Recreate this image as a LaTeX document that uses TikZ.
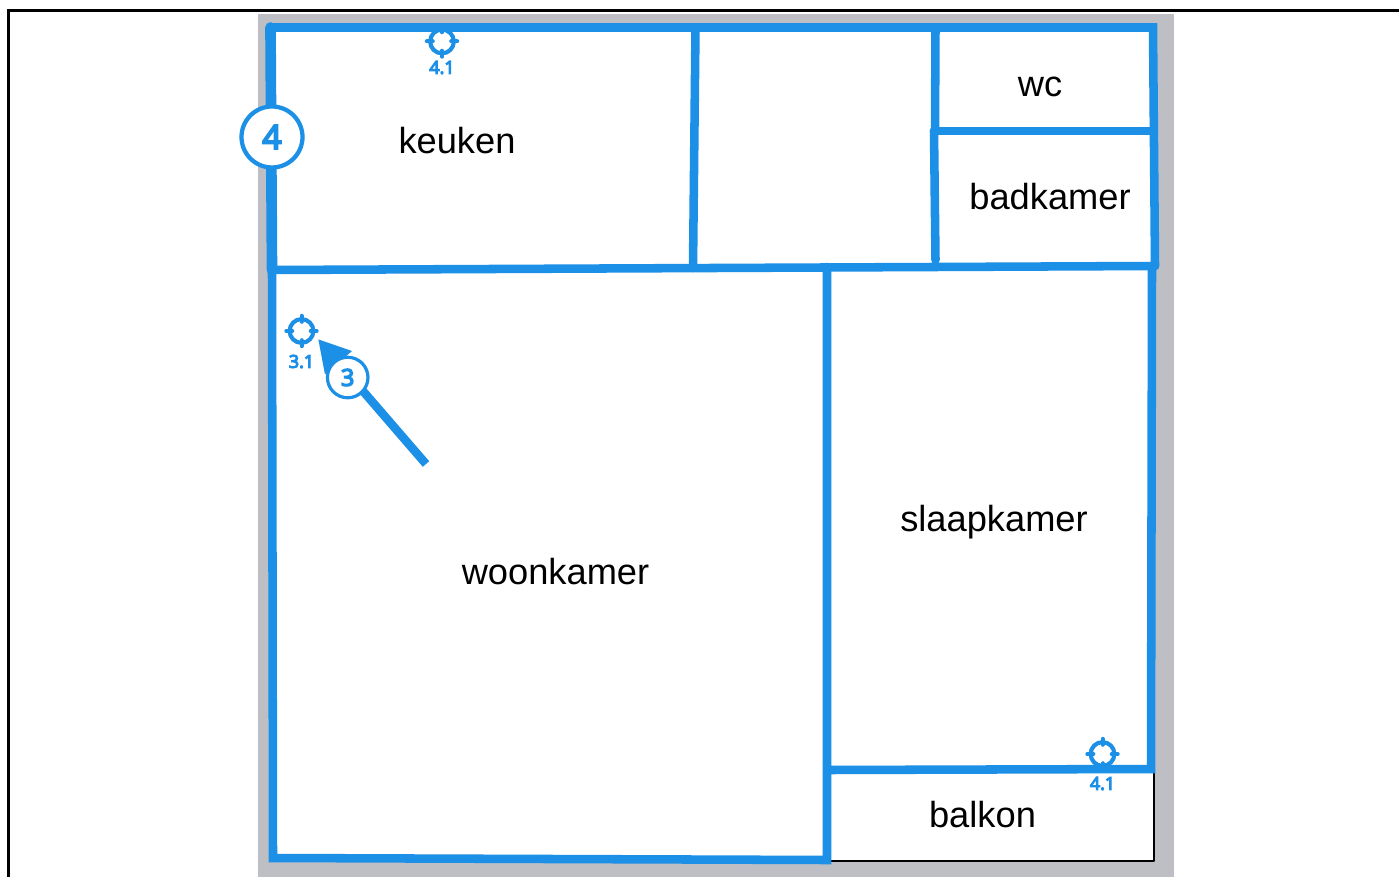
\documentclass[tikz,border=0pt]{standalone}
\usepackage{fontspec}
\setmainfont{Liberation Sans}
\newfontfamily\markfont[FakeBold=6]{Open Sans}
\usetikzlibrary{arrows.meta}
\definecolor{planblue}{HTML}{1C8FE6}
\definecolor{plangrey}{HTML}{BEBFC4}
\tikzset{
  wall/.style={draw=planblue,line width=6.4pt,line cap=round},
  room/.style={font=\fontsize{27.2}{27.2}\selectfont,anchor=base,inner sep=0pt},
  marker/.style={circle,draw=planblue,line width=3.1pt,minimum size=17.8pt,inner sep=0pt,outer sep=0pt},
  tick/.style={draw=planblue,line width=3pt,line cap=round},
  marklabel/.style={text=planblue,font=\fontsize{13.4}{13.4}\markfont\selectfont,inner sep=0pt},
  stepmark/.style={circle,draw=planblue,fill=white,text=planblue,inner sep=0pt,outer sep=0pt}
}
\begin{document}
\begin{tikzpicture}[x=0.75pt,y=-0.75pt]
  \useasboundingbox (0,0) rectangle (1399,877);
  \fill[white] (0,0) rectangle (1399,877);
  \fill[plangrey] (258,14) rectangle (1174,877);
  \draw[line width=2.25pt] (8.5,877) -- (8.5,10.7) -- (1399,10.7);
  \fill[white] (271,28) rectangle (1153,860);

  % balcony edge
  \coordinate (bal1) at (830,860.5);
  \coordinate (bal2) at (1153.6,860.5);
  \coordinate (bal3) at (1153.6,770);
  \draw[line width=1.5pt,line join=round] (bal1) -- (bal2) -- (bal3);

  % corners of the walls
  \coordinate (tl) at (270.5,27.5);
  \coordinate (tr) at (1153,27.5);
  \coordinate (kl) at (272,270);
  \coordinate (kr) at (1155,266);
  \coordinate (bl) at (273,858);
  \coordinate (bm) at (827,860);
  \coordinate (hm) at (827,267);
  \coordinate (bt) at (828,770);
  \coordinate (br) at (1151,769);
  \coordinate (mr) at (1152,266);
  \coordinate (ka) at (695.5,28);
  \coordinate (kb) at (693,268);
  \coordinate (wa) at (935.5,28);
  \coordinate (wb) at (935,130);
  \coordinate (wc) at (934,131);
  \coordinate (wd) at (1153,131);
  \coordinate (we) at (935.5,260);

  \draw[wall,line width=8pt] (tl) -- (kl);
  \draw[wall] (kl) -- (bl) -- (bm) -- (hm);
  \draw[wall] (tl) -- (tr) -- (kr);
  \draw[wall] (kl) -- (kr);
  \draw[wall] (mr) -- (br) -- (bt);
  \draw[wall] (ka) -- (kb);
  \draw[wall] (wa) -- (wb);
  \draw[wall] (wc) -- (we);
  \draw[wall] (wc) -- (wd);

  \node[room] (keuken) at (457,154) {keuken};
  \node[room] (wcroom) at (1040,97) {wc};
  \node[room] (badkamer) at (1050,209.5) {badkamer};
  \node[room] (slaapkamer) at (994,531) {slaapkamer};
  \node[room] (woonkamer) at (555.5,584) {woonkamer};
  \node[room] (balkon) at (982.5,827) {balkon};

  % targets
  \foreach \m/\cx/\cy/\ly/\lab in {marka/442/41.5/67.5/4.1,markb/301.5/331/361.5/3.1,markc/1102.5/754/783.5/4.1}{
    \node[marker] (\m) at (\cx,\cy) {};
    \foreach \a in {0,90,180,270}
      \draw[tick] (\m.\a) ++(\a:-2pt) -- ++(\a:4.5pt);
    \node[marklabel] (\m label) at (\cx,\ly) {\lab};
  }

  % arrow with its number
  \coordinate (arrstart) at (426,464);
  \coordinate (arrtip) at (318,339);
  \draw[draw=planblue,fill=planblue,line width=6.4pt,-{Triangle[length=23.5pt,width=25pt]}] (arrstart) -- (arrtip);
  \node[stepmark,line width=2.4pt,minimum size=30.4pt,font=\fontsize{17.5}{17.5}\markfont\selectfont] (stepthree) at (347.7,377.5) {3};
  \node[stepmark,line width=3.2pt,minimum size=45.75pt,font=\fontsize{25}{25}\markfont\selectfont] (stepfour) at (272,137) {4};
\end{tikzpicture}
\end{document}
